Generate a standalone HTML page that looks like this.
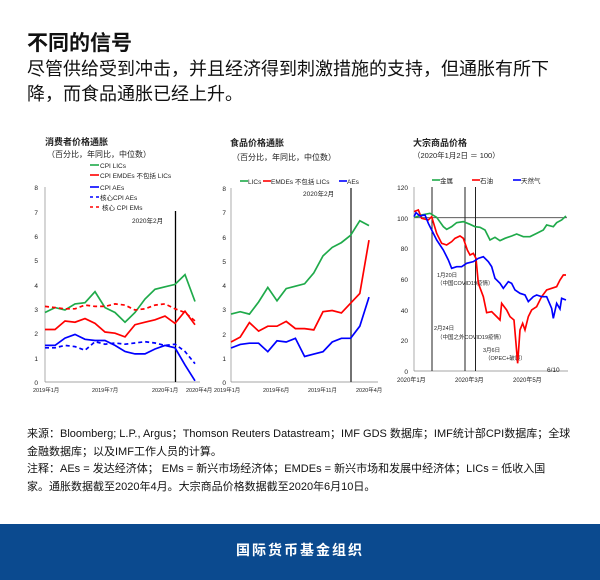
<!DOCTYPE html>
<html><head><meta charset="utf-8"><style>
body{margin:0;width:600px;height:580px;background:#fff;overflow:hidden;position:relative;font-family:"Liberation Sans","Noto Sans CJK SC",sans-serif;color:#111}
.h{position:absolute;left:27px;top:27px;font-size:21px;font-weight:bold}
.s{position:absolute;left:27px;top:57px;font-size:18px;line-height:25px;width:580px;white-space:nowrap}
.f{position:absolute;left:27px;top:426px;font-size:11px;line-height:17.5px;width:570px;white-space:nowrap}
.band{position:absolute;left:0;top:524px;width:600px;height:56px;background:#0b4a8f;color:#fff;font-size:14px;font-weight:bold;text-align:center;line-height:52px;letter-spacing:2px}
svg{position:absolute;left:0;top:0}
text{font-family:"Liberation Sans","Noto Sans CJK SC",sans-serif}
</style></head><body>
<div class="h">不同的信号</div>
<div class="s">尽管供给受到冲击，并且经济得到刺激措施的支持，但通胀有所下<br>降，而食品通胀已经上升。</div>
<div class="f">来源：Bloomberg; L.P., Argus；Thomson Reuters Datastream；IMF GDS 数据库；IMF统计部CPI数据库；全球<br>金融数据库；以及IMF工作人员的计算。<br>注释：AEs = 发达经济体； EMs = 新兴市场经济体；EMDEs = 新兴市场和发展中经济体；LICs = 低收入国<br>家。通胀数据截至2020年4月。大宗商品价格数据截至2020年6月10日。</div>
<div class="band">国际货币基金组织</div>
<svg width="600" height="580" viewBox="0 0 600 580">
<g font-size="6.5" fill="#222">
<text x="45" y="145" font-size="9" font-weight="bold" font-family="Liberation Serif,Noto Serif CJK SC,serif">消费者价格通胀</text>
<text x="47" y="157" font-size="8">（百分比，年同比，中位数）</text>
<g stroke-width="1.6">
<line x1="90" y1="165" x2="99" y2="165" stroke="#1faa4a"/><line x1="90" y1="175" x2="99" y2="175" stroke="#f00"/><line x1="90" y1="187" x2="99" y2="187" stroke="#00f"/>
<line x1="90" y1="197" x2="99" y2="197" stroke="#00f" stroke-dasharray="3,3"/><line x1="90" y1="207" x2="99" y2="207" stroke="#f00" stroke-dasharray="3,3"/></g>
<text x="100" y="168">CPI LICs</text><text x="100" y="178">CPI EMDEs 不包括 LICs</text><text x="100" y="190">CPI AEs</text><text x="100" y="200">核心CPI AEs</text><text x="102" y="210">核心 CPI EMs</text>
<text x="132" y="223">2020年2月</text>
<line x1="45" y1="187" x2="45" y2="382" stroke="#888" stroke-width=".7"/><line x1="45" y1="382" x2="200" y2="382" stroke="#888" stroke-width=".7"/>
<g text-anchor="end"><text x="38" y="385">0</text><text x="38" y="361">1</text><text x="38" y="336">2</text><text x="38" y="312">3</text><text x="38" y="288">4</text><text x="38" y="263">5</text><text x="38" y="239">6</text><text x="38" y="215">7</text><text x="38" y="190">8</text></g>
<g font-size="5.5"><text x="33" y="392">2019年1月</text><text x="92" y="392">2019年7月</text><text x="152" y="392">2020年1月</text><text x="186" y="392">2020年4月</text></g>
<line x1="175.5" y1="211" x2="175.5" y2="382" stroke="#000" stroke-width="1.3"/>
<g fill="none" stroke-width="1.7">
<polyline stroke="#1faa4a" points="45,312.5 55,307.6 65,310 75,303.9 85,302.7 95,291.7 105,307.6 115,312.5 125,322.2 135,312.5 145,299 155,289.3 165,286.8 175,284.4 185,274.6 195,301.5"/>
<polyline stroke="#f00" points="45,329.5 55,329.5 65,321 75,322.2 85,318.6 95,323.4 105,332 115,333.2 125,336.9 135,324.7 145,322.2 155,319.8 165,316.1 175,323.4 185,311.2 195,324.7"/>
<polyline stroke="#00f" points="45,345.4 55,345.4 65,338.1 75,334.4 85,339.3 95,340.5 105,340.5 115,345.4 125,351.5 135,353.9 145,353.9 155,349 165,345.4 175,347.8 185,364.9 195,380.8"/>
<polyline stroke="#00f" stroke-dasharray="4,3" points="45,347.8 55,347.8 65,345.4 75,346.6 85,350.3 95,341.7 105,344.2 115,343 125,344.2 135,343 145,341.7 155,343 165,345.4 175,344.2 185,351.5 195,363.7"/>
<polyline stroke="#f00" stroke-dasharray="4,3" points="45,306.4 55,307.6 65,308.8 75,308.8 85,305.1 95,306.4 105,306.4 115,303.9 125,305.1 135,310 145,308.8 155,305.1 165,303.9 175,308.8 185,312.5 195,321"/>
</g>
<text x="230" y="146" font-size="9" font-weight="bold" font-family="Liberation Serif,Noto Serif CJK SC,serif">食品价格通胀</text>
<text x="232" y="160" font-size="8">（百分比，年同比，中位数）</text>
<g stroke-width="1.6"><line x1="240" y1="181" x2="248" y2="181" stroke="#1faa4a"/><line x1="263" y1="181" x2="271" y2="181" stroke="#f00"/><line x1="339" y1="181" x2="347" y2="181" stroke="#00f"/></g>
<text x="248" y="184">LICs</text><text x="271" y="184">EMDEs 不包括 LICs</text><text x="347" y="184">AEs</text>
<text x="303" y="196">2020年2月</text>
<line x1="231" y1="188" x2="231" y2="382" stroke="#888" stroke-width=".7"/><line x1="231" y1="382" x2="378" y2="382" stroke="#888" stroke-width=".7"/>
<g text-anchor="end"><text x="226" y="385">0</text><text x="226" y="361">1</text><text x="226" y="337">2</text><text x="226" y="312">3</text><text x="226" y="288">4</text><text x="226" y="264">5</text><text x="226" y="240">6</text><text x="226" y="215">7</text><text x="226" y="191">8</text></g>
<g font-size="5.5"><text x="214" y="392">2019年1月</text><text x="263" y="392">2019年6月</text><text x="308" y="392">2019年11月</text><text x="356" y="392">2020年4月</text></g>
<line x1="351" y1="188" x2="351" y2="382" stroke="#444" stroke-width="1.5"/>
<g fill="none" stroke-width="1.7">
<polyline stroke="#1faa4a" points="231,314.1 240.2,311.7 249.4,314.1 258.6,302 267.8,287.4 277,300.8 286.2,288.6 295.4,286.2 304.6,283.8 313.8,272.9 323,255.9 332.2,247.4 341.4,242.6 350.6,235.3 359.8,220.7 369,225.6"/>
<polyline stroke="#f00" points="231,342 240.2,337.1 249.4,322.6 258.6,331.1 267.8,326.2 277,326.2 286.2,321.4 295.4,328.6 304.6,328.6 313.8,329.9 323,311.7 332.2,310.5 341.4,312.9 350.6,303.2 359.8,293.5 369,240.1"/>
<polyline stroke="#00f" points="231,348 240.2,344.4 249.4,343.2 258.6,343.2 267.8,351.7 277,340.8 286.2,342 295.4,338.3 304.6,356.5 313.8,354.1 323,351.7 332.2,342 341.4,338.3 350.6,338.3 359.8,326.2 369,297.1"/>
</g>
<text x="413" y="146" font-size="9" font-weight="bold" font-family="Liberation Serif,Noto Serif CJK SC,serif">大宗商品价格</text>
<text x="413" y="158" font-size="7.5">（2020年1月2日 ＝ 100）</text>
<g stroke-width="1.6"><line x1="432" y1="180" x2="440" y2="180" stroke="#1faa4a"/><line x1="472" y1="180" x2="480" y2="180" stroke="#f00"/><line x1="513" y1="180" x2="521" y2="180" stroke="#00f"/></g>
<text x="440" y="183">金属</text><text x="480" y="183">石油</text><text x="521" y="183">天然气</text>
<line x1="414" y1="187" x2="414" y2="371" stroke="#888" stroke-width=".7"/><line x1="414" y1="371" x2="568" y2="371" stroke="#888" stroke-width=".7"/>
<g text-anchor="end"><text x="408" y="374">0</text><text x="408" y="343">20</text><text x="408" y="313">40</text><text x="408" y="282">60</text><text x="408" y="251">80</text><text x="408" y="221">100</text><text x="408" y="190">120</text></g>
<g font-size="6"><text x="397" y="382">2020年1月</text><text x="455" y="382">2020年3月</text><text x="513" y="382">2020年5月</text></g>
<line x1="414" y1="217.7" x2="567" y2="217.7" stroke="#444" stroke-width=".8"/>
<g stroke="#222" stroke-width="1"><line x1="432" y1="187" x2="432" y2="371"/><line x1="465" y1="187" x2="465" y2="371"/><line x1="475.5" y1="187" x2="475.5" y2="371"/></g>
<g font-size="5.5"><text x="437" y="277">1月20日</text><text x="437" y="285">（中国COVID19疫情）</text><text x="434" y="330">2月24日</text><text x="437" y="339">（中国之外COVID19疫情）</text><text x="483" y="352">3月6日</text><text x="485" y="360">（OPEC+破裂）</text><text x="547" y="372" font-size="6.5">6/10</text></g>
<g transform="translate(390,130) scale(0.3333)" fill="none" stroke-width="5">
<polyline stroke="#1faa4a" points="75,262 95,255 120,250 140,262 160,290 170,298 185,290 200,278 220,275 240,283 255,290 270,292 285,300 300,330 315,322 330,332 345,325 365,318 380,312 400,320 420,320 440,310 460,300 470,285 490,290 500,278 515,270 528,258"/>
<polyline stroke="#f00" points="72,245 85,240 95,265 115,270 125,260 140,310 155,340 170,345 185,335 195,325 210,318 220,325 232,360 240,375 250,370 258,385 265,460 280,500 290,548 305,545 320,560 330,570 335,520 350,540 360,560 372,570 378,640 383,700 390,600 398,580 405,600 415,560 425,540 440,530 455,500 470,480 485,475 500,470 510,450 520,435 528,435"/>
<polyline stroke="#00f" points="72,260 78,248 90,258 105,255 115,280 125,300 140,330 160,360 175,390 185,415 200,410 215,410 230,400 250,395 265,385 280,380 295,395 305,410 315,445 330,460 340,475 355,455 365,460 375,480 390,490 405,495 415,515 430,500 440,495 455,500 470,500 485,535 490,565 500,520 510,537 515,505 528,510"/>
</g>
</g>
</svg>
</body></html>
